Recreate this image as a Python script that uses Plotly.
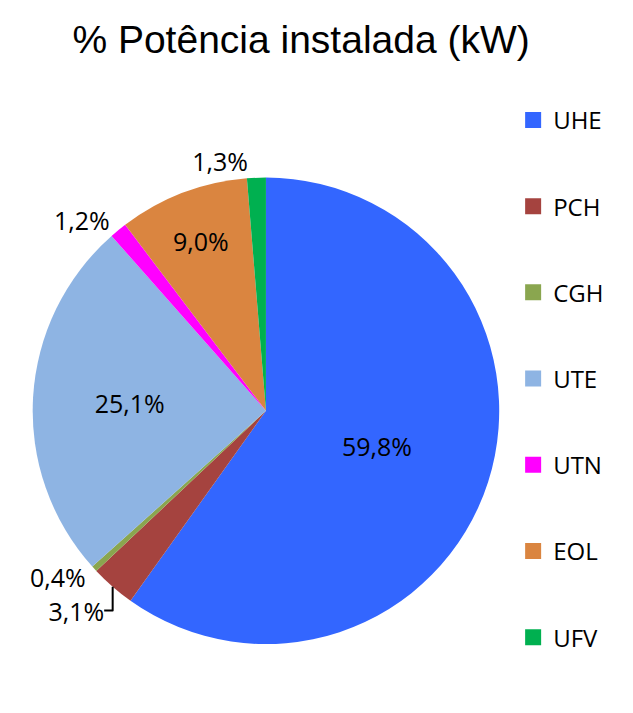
import plotly.graph_objects as go

categories = ["UHE", "PCH", "CGH", "UTE", "UTN", "EOL", "UFV"]
values = [59.8, 3.1, 0.4, 25.1, 1.2, 9.0, 1.3]
value_labels = ["59,8%", "3,1%", "0,4%", "25,1%", "1,2%", "9,0%", "1,3%"]
colors = ["#3366FF", "#A5433F", "#8AA64F", "#8EB4E3", "#FF00FF", "#DA8540", "#00B050"]
text_positions = ["inside", "outside", "outside", "inside", "outside", "inside", "outside"]

FONT = "Open Sans"

fig = go.Figure()
fig.add_trace(go.Pie(
    labels=categories,
    values=values,
    text=value_labels,
    textinfo="text",
    textposition=text_positions,
    insidetextorientation="horizontal",
    textfont=dict(family=FONT, size=25, color="black"),
    marker=dict(colors=colors, line=dict(width=0)),
    sort=False,
    direction="clockwise",
    rotation=0,
    showlegend=False,
    domain=dict(x=[0.039, 0.776], y=[0.105, 0.765]),
    hoverinfo="label+percent",
))

# legend entries (one group each so they can be spaced out)
for cat, col in zip(categories, colors):
    fig.add_trace(go.Scatter(
        x=[None], y=[None], mode="markers", name=cat,
        marker=dict(symbol="square", size=16, color=col),
        legendgroup=cat, showlegend=True,
    ))

fig.update_layout(
    width=633, height=713,
    margin=dict(l=0, r=0, t=0, b=0),
    paper_bgcolor="white", plot_bgcolor="white",
    title=dict(text="% Potência instalada (kW)", x=0.463, xanchor="center", y=0.956,
               yanchor="middle", font=dict(family="Liberation Sans", size=39, color="black")),
    xaxis=dict(visible=False), yaxis=dict(visible=False),
    legend=dict(x=0.798, y=0.874, xanchor="left", yanchor="top",
                font=dict(family=FONT, size=24, color="black"),
                tracegroupgap=52, itemwidth=30, bgcolor="rgba(0,0,0,0)"),
)

fig.write_html("out.html")
